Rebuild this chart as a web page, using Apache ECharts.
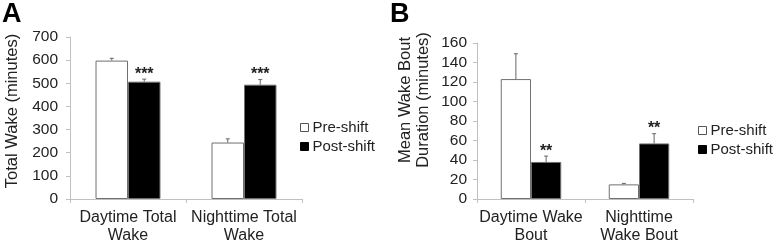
<!DOCTYPE html>
<html>
<head>
<meta charset="utf-8">
<script src="https://cdn.jsdelivr.net/npm/echarts@6/dist/echarts.min.js"></script>
<style>
  html, body { margin: 0; padding: 0; background: #fff; }
  #chart { width: 780px; height: 245px; }
</style>
</head>
<body>
<div id="chart"></div>
<script>
// panel A: total wake
const categoriesA = ['Daytime Total\nWake', 'Nighttime Total\nWake']
const preA = [598, 244]
const preAErr = [10, 16]
const postA = [507, 494]
const postAErr = [11, 22]
const starsA = ['***', '***']

// panel B: mean wake bout duration
const categoriesB = ['Daytime Wake\nBout', 'Nighttime\nWake Bout']
const preB = [123, 15]
const preBErr = [26, 1]
const postB = [38, 57]
const postBErr = [6, 10]
const starsB = ['**', '**']

const FONT = 'Liberation Sans, Arial, sans-serif'
const BAR_W = 0.28
const AXIS_GREY = '#c0c0c0'

const chart = echarts.init(document.getElementById('chart'))

// error bar (+ optional stars) drawn over the grouped bars
function errorSeries(name, values, errs, stars, side, axisIdx) {
  return {
    name: name + ' err',
    type: 'custom',
    xAxisIndex: axisIdx,
    yAxisIndex: axisIdx,
    z: 5,
    silent: true,
    data: values.map((v, i) => [i, v, errs[i], stars ? stars[i] : '']),
    renderItem: function (params, api) {
      const bandW = api.size([1, 0])[0]
      const base = api.coord([api.value(0), api.value(1)])
      const top = api.coord([api.value(0), api.value(1) + api.value(2)])
      const x = base[0] + side * bandW * BAR_W / 2
      const children = [
        { type: 'line', shape: { x1: x, y1: base[1], x2: x, y2: top[1] },
          style: { stroke: '#666', lineWidth: 1 } },
        { type: 'line', shape: { x1: x - 2, y1: top[1], x2: x + 2, y2: top[1] },
          style: { stroke: '#666', lineWidth: 1 } }
      ]
      const s = api.value(3)
      if (s) {
        children.push({
          type: 'text',
          style: { text: s, x: x, y: top[1] - 5, align: 'center', verticalAlign: 'middle',
            font: 'bold 16px ' + FONT, fill: '#222' }
        })
      }
      return { type: 'group', children: children }
    }
  }
}

function barSeries(name, values, axisIdx, fill) {
  return {
    name: name,
    type: 'bar',
    xAxisIndex: axisIdx,
    yAxisIndex: axisIdx,
    data: values,
    barWidth: (BAR_W * 100) + '%',
    barGap: '0%',
    itemStyle: { color: fill, borderColor: '#707070', borderWidth: 1 }
  }
}

const xAxisBase = {
  type: 'category',
  axisLine: { lineStyle: { color: AXIS_GREY, width: 1 } },
  axisTick: { show: true, length: 4, lineStyle: { color: AXIS_GREY } },
  axisLabel: { fontFamily: FONT, fontSize: 16, color: '#222', lineHeight: 18, margin: 10, interval: 0 }
}
const yAxisBase = {
  type: 'value',
  min: 0,
  splitLine: { show: false },
  axisLine: { show: true, lineStyle: { color: AXIS_GREY, width: 1 } },
  axisTick: { show: true, length: 4, lineStyle: { color: AXIS_GREY } },
  axisLabel: { fontFamily: FONT, fontSize: 15.5, color: '#222', margin: 12 },
  nameLocation: 'middle'
}

const legendData = [
  { name: 'Pre-shift', icon: 'rect', itemStyle: { color: '#fff', borderColor: '#555', borderWidth: 1 } },
  { name: 'Post-shift', icon: 'rect', itemStyle: { color: '#000', borderColor: '#000', borderWidth: 1 } }
]
const legendBase = {
  orient: 'vertical',
  padding: 0,
  itemWidth: 8,
  itemHeight: 8,
  itemGap: 4,
  selectedMode: false,
  data: legendData,
  textStyle: { fontFamily: FONT, fontSize: 15, color: '#222', padding: [0, 0, 0, -1] }
}

const option = {
  animation: false,
  title: [
    { text: 'A', left: 2, top: 1, padding: 0, textStyle: { fontFamily: FONT, fontSize: 27, fontWeight: 'bold', color: '#000' } },
    { text: 'B', left: 390, top: 1, padding: 0, textStyle: { fontFamily: FONT, fontSize: 27, fontWeight: 'bold', color: '#000' } }
  ],
  legend: [
    Object.assign({ left: 300, top: 120 }, legendBase),
    Object.assign({ left: 698, top: 123 }, legendBase)
  ],
  grid: [
    { left: 70, top: 37, width: 232, bottom: 45 },
    { left: 477, top: 43, width: 216, bottom: 45 }
  ],
  xAxis: [
    Object.assign({ gridIndex: 0, data: categoriesA }, xAxisBase),
    Object.assign({ gridIndex: 1, data: categoriesB }, xAxisBase)
  ],
  yAxis: [
    Object.assign({}, yAxisBase, {
      gridIndex: 0, max: 700, interval: 100,
      name: 'Total Wake (minutes)', nameGap: 49,
      nameTextStyle: { fontFamily: FONT, fontSize: 16.5, color: '#222', padding: [0, 0, 0, 14] }
    }),
    Object.assign({}, yAxisBase, {
      gridIndex: 1, max: 160, interval: 20, axisLabel: Object.assign({}, yAxisBase.axisLabel, { margin: 10 }),
      name: 'Mean Wake Bout\nDuration (minutes)', nameGap: 45,
      nameTextStyle: { fontFamily: FONT, fontSize: 16.5, color: '#222', lineHeight: 18, padding: [0, 0, 0, 42] }
    })
  ],
  series: [
    barSeries('Pre-shift', preA, 0, '#fff'),
    barSeries('Post-shift', postA, 0, '#000'),
    errorSeries('Pre-shift', preA, preAErr, null, -1, 0),
    errorSeries('Post-shift', postA, postAErr, starsA, 1, 0),
    barSeries('Pre-shift', preB, 1, '#fff'),
    barSeries('Post-shift', postB, 1, '#000'),
    errorSeries('Pre-shift', preB, preBErr, null, -1, 1),
    errorSeries('Post-shift', postB, postBErr, starsB, 1, 1)
  ]
}

chart.setOption(option)
</script>
</body>
</html>
